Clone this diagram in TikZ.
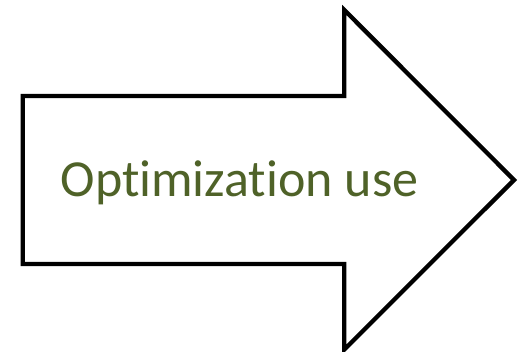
\documentclass[tikz,border=0pt]{standalone}
\usepackage{fontspec}
\setmainfont{Carlito}[Ligatures=NoCommon]
\definecolor{olivetext}{HTML}{4F6228}
\tikzset{
  blockarrow/.style={draw=black, line width=4.3pt, fill=white, line join=miter},
  arrowlabel/.style={text=olivetext, font=\fontsize{52}{60}\selectfont, inner sep=0pt, anchor=base}
}
\begin{document}
\begin{tikzpicture}[x=1pt,y=1pt]
  \useasboundingbox (0,0) rectangle (523,352);
  % block arrow pointing right (y measured upward)
  \draw[blockarrow]
    (22.7,256) -- (344.3,256) -- (344.3,342) -- (514,172)
    -- (344.3,2.5) -- (344.3,88) -- (22.7,88) -- cycle;
  \node[arrowlabel] (label) at (239.5,155) {Optimization use};
\end{tikzpicture}
\end{document}
